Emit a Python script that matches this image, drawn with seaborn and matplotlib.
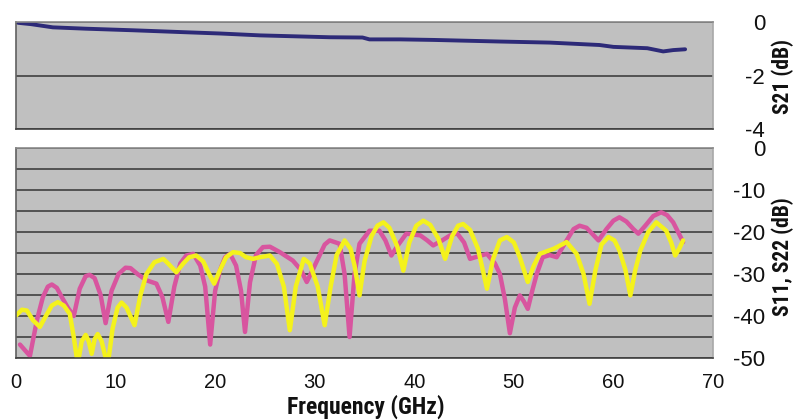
import matplotlib
matplotlib.use("Agg")
import matplotlib.pyplot as plt
from matplotlib import font_manager
import seaborn as sns
import pandas as pd

# ---------------- data ----------------
s21_freq = [0.2, 1.5, 3.7, 7.0, 11.8, 16.8, 20.5, 24.5, 31.5, 34.8, 35.5, 38.6,
            41.9, 48.6, 53.6, 58.6, 60.0, 63.4, 65.0, 66.0, 67.2]
s21_db = [-0.03, -0.08, -0.20, -0.25, -0.31, -0.38, -0.43, -0.50, -0.57, -0.58,
          -0.65, -0.65, -0.67, -0.73, -0.77, -0.86, -0.93, -0.98, -1.10, -1.05, -1.02]

s11_freq = [0.4, 1.4, 2.1, 2.7, 3.2, 3.6, 4.1, 4.6, 5.2, 5.8, 6.4, 7.0, 7.4, 7.9,
            8.5, 9.0, 9.6, 10.3, 11.0, 11.5, 12.2, 13.1, 14.1, 14.7, 15.3, 15.9,
            16.5, 17.1, 17.8, 18.5, 19.0, 19.5, 20.0, 20.5, 21.0, 21.5, 22.1, 22.6,
            23.0, 23.5, 24.1, 24.8, 25.5, 26.5, 27.8, 28.6, 29.2, 29.8, 30.4, 31.0,
            31.5, 32.5, 33.0, 33.5, 34.0, 34.5, 35.5, 36.5, 37.1, 37.7, 38.4, 39.2,
            40.6, 41.3, 41.9, 42.8, 43.6, 44.3, 45.0, 45.6, 46.4, 47.3, 48.1, 48.6,
            49.1, 49.6, 50.1, 50.6, 51.0, 51.4, 51.9, 52.3, 52.9, 53.6, 54.3, 55.3,
            56.0, 56.6, 57.3, 57.9, 58.5, 59.3, 60.0, 60.6, 61.3, 62.0, 62.5, 63.2,
            64.0, 64.8, 65.4, 66.0, 66.6, 67.0]
s11_db = [-46.8, -49.5, -41.0, -35.5, -33.0, -32.5, -33.3, -35.5, -38.0, -40.0,
          -33.5, -30.5, -30.2, -31.0, -35.0, -41.7, -34.0, -30.0, -28.5, -28.6,
          -30.0, -31.5, -32.3, -35.5, -41.4, -33.0, -27.5, -25.6, -25.2, -28.0,
          -33.0, -46.8, -34.0, -29.0, -26.0, -25.2, -28.0, -34.0, -43.8, -32.0,
          -25.5, -23.6, -23.5, -24.8, -26.8, -29.0, -31.9, -29.0, -26.0, -23.0,
          -22.0, -22.8, -30.0, -45.0, -30.0, -22.8, -19.7, -19.7, -22.0, -25.6,
          -23.0, -20.4, -20.8, -22.0, -23.2, -22.0, -20.8, -20.3, -22.5, -26.4,
          -25.8, -25.2, -27.5, -30.0, -36.0, -44.1, -38.0, -35.1, -36.5, -38.3,
          -33.5, -30.0, -26.0, -25.5, -26.0, -22.0, -19.3, -18.5, -19.0, -20.5,
          -22.0, -19.3, -17.3, -16.5, -17.5, -19.3, -20.4, -18.5, -16.2, -15.3,
          -16.0, -17.7, -20.5, -22.4]

s22_freq = [0.0, 0.6, 1.1, 1.7, 2.4, 3.0, 3.6, 4.2, 4.8, 5.4, 5.8, 6.2, 6.6, 7.0,
            7.3, 7.6, 7.9, 8.2, 8.6, 9.2, 9.7, 10.2, 10.6, 11.1, 11.9, 12.5, 13.1,
            13.9, 14.8, 15.4, 16.1, 16.8, 17.4, 18.1, 18.8, 19.4, 19.9, 20.5, 21.1,
            21.8, 22.5, 23.1, 23.8, 24.5, 25.5, 26.2, 26.9, 27.5, 28.1, 28.9, 29.5,
            30.3, 31.0, 31.6, 32.2, 33.0, 33.6, 34.0, 34.5, 35.0, 35.7, 36.3, 36.9,
            37.5, 38.3, 38.9, 39.5, 40.2, 40.9, 41.6, 42.4, 43.1, 43.8, 44.4, 44.9,
            45.6, 46.4, 47.3, 47.9, 48.6, 49.3, 50.0, 50.6, 51.0, 51.4, 52.0, 52.6,
            54.0, 55.3, 56.3, 57.0, 57.6, 58.2, 58.8, 59.5, 60.1, 60.6, 61.2, 61.7,
            62.2, 62.7, 63.5, 64.3, 65.3, 65.8, 66.2, 66.6, 67.0]
s22_db = [-39.9, -38.5, -38.7, -41.0, -42.6, -40.0, -37.5, -36.7, -37.5, -39.5,
          -45.0, -51.5, -46.0, -44.5, -46.0, -49.0, -45.5, -44.3, -46.0, -52.0,
          -43.0, -38.0, -36.8, -38.0, -42.2, -35.0, -30.0, -27.2, -26.4, -27.8,
          -29.6, -27.5, -26.0, -25.6, -27.0, -30.0, -32.3, -29.0, -26.0, -24.8,
          -25.0, -26.0, -26.4, -26.0, -25.6, -27.6, -33.0, -43.4, -33.0, -26.4,
          -27.5, -33.0, -42.2, -33.0, -25.5, -22.0, -24.0, -28.0, -35.1, -27.0,
          -21.0, -18.5, -17.7, -19.0, -23.5, -29.2, -22.5, -18.5, -17.3, -18.3,
          -21.5, -26.4, -21.0, -18.5, -18.1, -19.5, -24.0, -33.5, -26.5, -22.0,
          -21.2, -22.5, -26.0, -29.0, -31.9, -28.0, -25.2, -24.0, -22.4, -25.2,
          -30.0, -37.1, -29.0, -23.0, -21.2, -22.0, -24.4, -29.0, -35.1, -29.0,
          -24.4, -20.0, -17.7, -19.7, -22.5, -25.6, -24.0, -22.0]

x_ticks = [0, 10, 20, 30, 40, 50, 60, 70]
s21_ticks = [0, -2, -4]
s_ticks = [0, -10, -20, -30, -40, -50]
x_label = "Frequency (GHz)"
s21_label = "S21 (dB)"
s_label = "S11, S22 (dB)"

# ---------------- style ----------------
sns.set_style("white")
avail = {f.name for f in font_manager.fontManager.ttflist}


def pick(*names):
    for n in names:
        if n in avail:
            return n
    return "DejaVu Sans"


tick_font = pick("Liberation Sans", "Roboto")
label_font = pick("Roboto Condensed", "Fira Sans Condensed", "Barlow Condensed",
                  "Liberation Sans")
plt.rcParams['font.family'] = [tick_font, 'DejaVu Sans']

BG = "#c0c0c0"
GRID = "#4a4a4a"

fig = plt.figure(figsize=(7.94, 4.20), dpi=100)
ax1 = fig.add_axes([16 / 794, 1 - 129 / 420, 697 / 794, 107 / 420])
ax2 = fig.add_axes([16 / 794, 1 - 358 / 420, 697 / 794, 210 / 420])

df21 = pd.DataFrame({"f": s21_freq, "v": s21_db})
df11 = pd.DataFrame({"f": s11_freq, "v": s11_db})
df22 = pd.DataFrame({"f": s22_freq, "v": s22_db})

for ax in (ax1, ax2):
    ax.set_facecolor(BG)
    ax.set_xlim(0, 70)
    ax.yaxis.tick_right()
    ax.tick_params(axis='y', length=0, pad=37.5, labelsize=16, colors="#111111")
    ax.spines['left'].set_color("#606060")
    ax.spines['bottom'].set_color("#404040")
    ax.spines['top'].set_color("#8a8a8a")
    ax.spines['right'].set_color("#a8a8a8")
    for s in ax.spines.values():
        s.set_linewidth(1.2)

# top panel
ax1.set_ylim(-4, 0)
ax1.set_yticks(s21_ticks)
ax1.set_yticklabels([str(t) for t in s21_ticks])
ax1.set_xticks([])
ax1.grid(axis='y', color=GRID, lw=1.3)
ax1.set_axisbelow(True)
sns.lineplot(data=df21, x="f", y="v", ax=ax1, color="#2d2a78", lw=2.8,
             solid_joinstyle='round', solid_capstyle='round')
ax1.set_xlabel("")
ax1.set_ylabel("")

# bottom panel
ax2.set_ylim(-50, 0)
ax2.set_yticks(s_ticks)
ax2.set_yticklabels([str(t) for t in s_ticks])
ax2.set_yticks(list(range(-45, 0, 10)), minor=True)
ax2.tick_params(axis='y', which='minor', length=0)
ax2.grid(axis='y', which='both', color=GRID, lw=1.3)
ax2.set_axisbelow(True)
sns.lineplot(data=df11, x="f", y="v", ax=ax2, color="#d8559f", lw=3.2,
             solid_joinstyle='round', solid_capstyle='round')
sns.lineplot(data=df22, x="f", y="v", ax=ax2, color="#f4f21c", lw=3.2,
             solid_joinstyle='round', solid_capstyle='round')
ax2.set_xticks(x_ticks)
ax2.set_xticklabels([str(t) for t in x_ticks])
ax2.tick_params(axis='x', direction='in', length=4, width=1, color="#404040",
                pad=11, labelsize=14.5)
ax2.tick_params(axis='x', labelcolor="#111111")
ax2.set_xlabel("")
ax2.set_ylabel("")

for ax in (ax1, ax2):
    plt.setp(ax.get_yticklabels(), ha='right')

lab = dict(fontweight=900, family=[label_font, 'DejaVu Sans'], color="#111111")
fig.text(0.5 * (16 + 713) / 794 + 0.002, 1 - 407 / 420, x_label, ha='center',
         va='center', fontsize=17, **lab)
fig.text(783 / 794, 1 - 76 / 420, s21_label, ha='center', va='center', rotation=90,
         fontsize=15.5, **lab)
fig.text(783 / 794, 1 - 257 / 420, s_label, ha='center', va='center', rotation=90,
         fontsize=15.5, **lab)

fig.savefig("out.png", dpi=100, facecolor="white")
